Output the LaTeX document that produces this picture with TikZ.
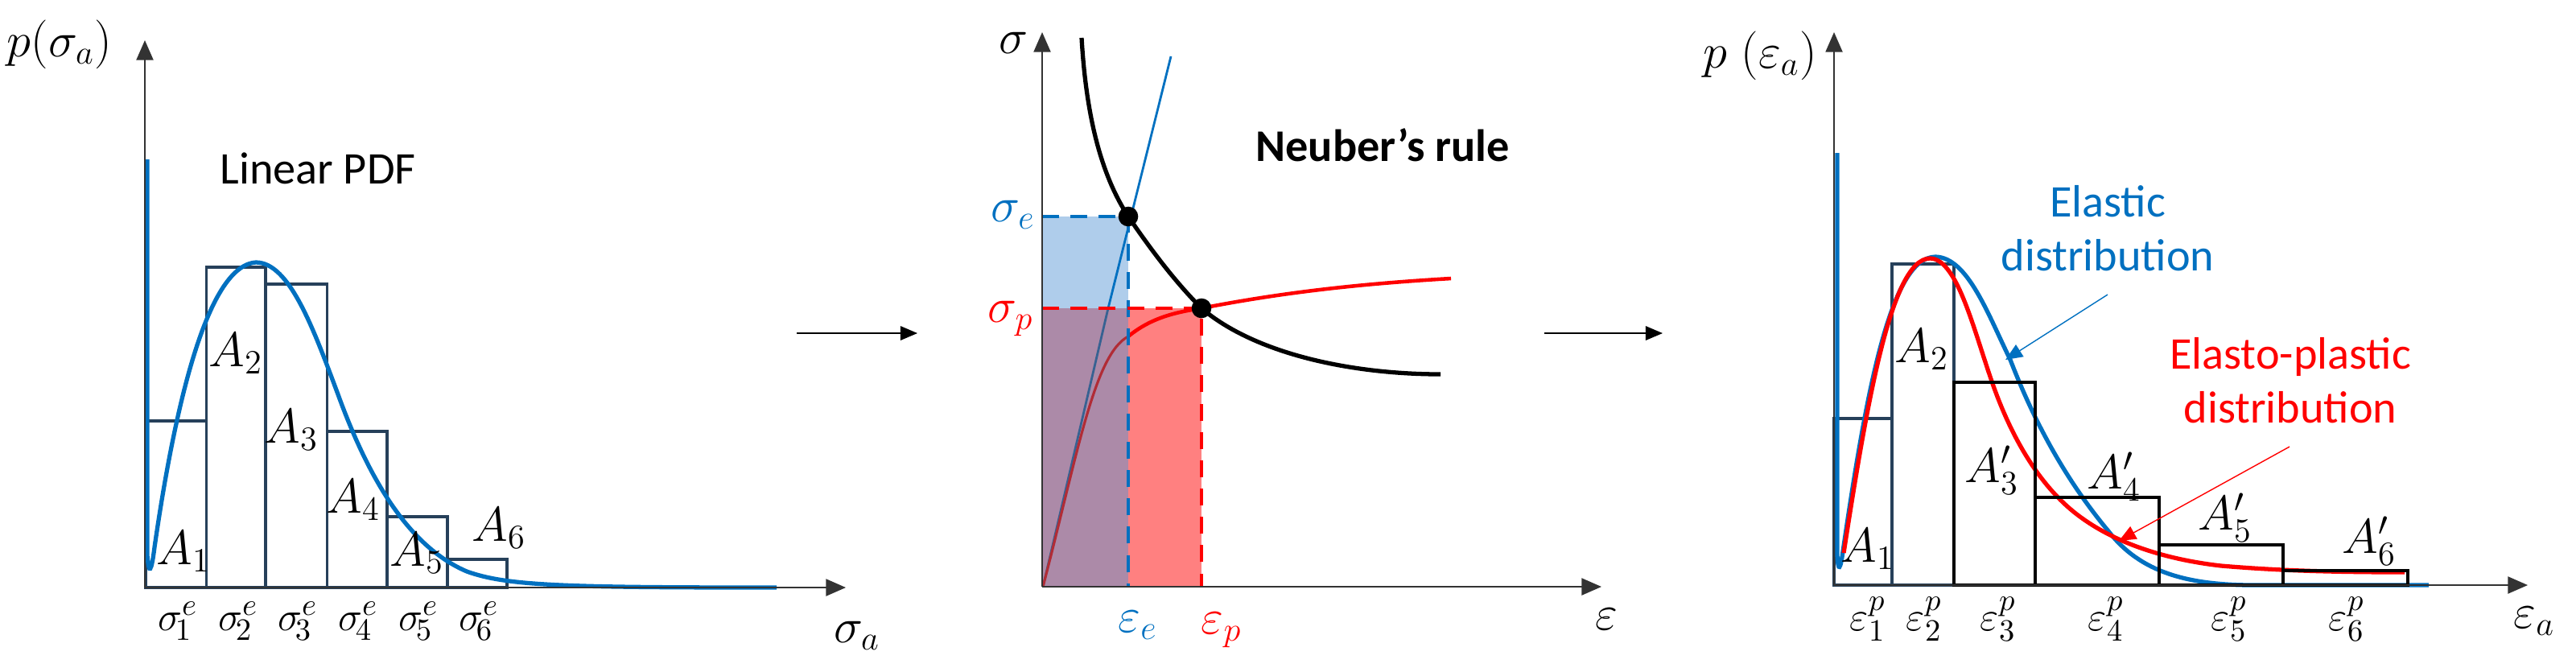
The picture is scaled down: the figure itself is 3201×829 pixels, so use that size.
\documentclass[tikz,border=0pt]{standalone}
\usepackage{fontspec}
\newfontfamily\carl{Carlito}
\usetikzlibrary{arrows.meta}
\definecolor{mblue}{RGB}{0,112,192}
\definecolor{bardark}{RGB}{38,64,90}
\definecolor{fblue}{RGB}{175,205,235}
\definecolor{fpurp}{RGB}{172,138,168}
\definecolor{fred}{RGB}{255,128,128}
\begin{document}
\begin{tikzpicture}[x=0.01cm,y=-0.01cm,
  axis/.style={draw=black!80,line width=0.5pt,-{Triangle[length=7pt,width=6pt]}},
  bar/.style={draw=bardark,line width=0.9pt},
  kbar/.style={draw=black,line width=0.9pt},
  curve/.style={line width=1.5pt},
  lab/.style={font=\fontsize{17}{20}\selectfont,inner sep=1pt},
  tick/.style={font=\fontsize{15.5}{18}\selectfont,inner sep=0pt},
  txt/.style={font=\carl\fontsize{16}{19}\selectfont,align=center},
  conn/.style={line width=0.4pt,-{Triangle[length=6pt,width=5pt]}}]
\useasboundingbox (0,0) rectangle (3201,829);
% ---------- panel 1
\draw[bar] (181,730) rectangle (256.5,523);
\draw[bar] (256.5,730) rectangle (330,332);
\draw[bar] (330,730) rectangle (406.5,353);
\draw[bar] (406.5,730) rectangle (481,536);
\draw[bar] (481,730) rectangle (556,642);
\draw[bar] (556,730) rectangle (630,695);
\draw[curve,mblue] (183,198) -- (183,690) .. controls (185,715) and (188,712) .. (192,680)
  .. controls (215,520) and (255,330) .. (318,326)
  .. controls (360,326) and (390,410) .. (420,490)
  .. controls (460,600) and (510,680) .. (580,710)
  .. controls (630,728) and (700,730) .. (965,730);
\coordinate (o1) at (180,730);
\coordinate (y1) at (180,50);
\coordinate (x1) at (1051,730);
\draw[axis] (o1) -- (y1);
\draw[axis] (o1) -- (x1);
\node[lab] (py) at (74,55) {$p(\sigma_a)$};
\node[lab] (sx) at (1065,790) {$\sigma_a$};
\node[txt] (lin) at (395,209) {Linear PDF};
\foreach \x/\y/\i in {228/685/1,293/439/2,362/534/3,439/621/4,518/687/5,620/656/6}
  \node[lab] (a\i) at (\x,\y) {$A_{\i}$};
\foreach \x/\i in {221/1,296/2,370/3,445/4,520/5,595/6}
  \node[tick] (s\i) at (\x,772) {$\sigma_{\!\i}^{e}$};
% arrows between panels
\coordinate (r1a) at (990,414); \coordinate (r1b) at (1140,414);
\coordinate (r2a) at (1919,414); \coordinate (r2b) at (2066,414);
\draw[conn] (r1a) -- (r1b);
\draw[conn] (r2a) -- (r2b);
% ---------- panel 2
\fill[fblue] (1295,269) rectangle (1402,383);
\fill[fpurp] (1295,383) rectangle (1402,729);
\fill[fred] (1402,383) rectangle (1493,729);
\draw[mblue!60!fpurp!80!black,line width=0.8pt] (1296,729) -- (1377,383);
\draw[mblue,line width=0.8pt] (1377,383) -- (1455,70);
\draw[red!60!fpurp!80!black,line width=0.9pt] (1296,729) .. controls (1340,560) and (1360,440) .. (1402,418);
\draw[red,line width=1.3pt] (1402,418) .. controls (1430,395) and (1460,388) .. (1493,383)
  .. controls (1600,362) and (1700,352) .. (1803,346);
\draw[black,line width=1.5pt] (1344,47) .. controls (1350,150) and (1370,220) .. (1402,269)
  .. controls (1430,310) and (1460,350) .. (1493,383)
  .. controls (1560,440) and (1680,465) .. (1790,465);
\draw[mblue,line width=1.1pt,dash pattern=on 6pt off 4pt] (1295,269) -- (1402,269) -- (1402,729);
\draw[red,line width=1.1pt,dash pattern=on 6pt off 4pt] (1295,383) -- (1493,383) -- (1493,729);
\coordinate (o2) at (1295,729);
\coordinate (y2) at (1295,40);
\coordinate (x2) at (1990,729);
\draw[axis] (o2) -- (y2);
\draw[axis] (o2) -- (x2);
\node[circle,fill=black,inner sep=0pt,minimum size=7pt] (pe) at (1402,269) {};
\node[circle,fill=black,inner sep=0pt,minimum size=7pt] (pp) at (1493,383) {};
\node[lab] (sig) at (1259,53) {$\sigma$};
\node[lab] (eps) at (1996,769) {$\varepsilon$};
\node[lab,text=mblue] (se) at (1259,267) {$\sigma_e$};
\node[lab,text=red] (sp) at (1256,396) {$\sigma_p$};
\node[lab,text=mblue] (ee) at (1414,777) {$\varepsilon_e$};
\node[lab,text=red] (ep) at (1518,783) {$\varepsilon_p$};
\node[txt,font=\carl\bfseries\fontsize{16}{19}\selectfont] (neu) at (1718,180) {Neuber’s rule};
% ---------- panel 3
\draw[bar] (2279,727) rectangle (2351,520);
\draw[bar] (2351,727) rectangle (2428,328);
\draw[curve,mblue] (2283,190) -- (2283,690) .. controls (2284,712) and (2287,708) .. (2290,685)
  .. controls (2320,480) and (2350,320) .. (2405,319)
  .. controls (2445,320) and (2470,390) .. (2498,447)
  .. controls (2530,530) and (2570,600) .. (2620,660)
  .. controls (2660,712) and (2720,727) .. (2800,727) -- (3018,727);
\draw[curve,red] (2291,687) .. controls (2320,500) and (2350,322) .. (2398,321)
  .. controls (2430,321) and (2450,400) .. (2472,465)
  .. controls (2500,550) and (2540,610) .. (2586,643)
  .. controls (2630,675) and (2690,695) .. (2760,703)
  .. controls (2830,709) and (2900,711) .. (2988,711);
\draw[kbar] (2428,727) rectangle (2529,475);
\draw[kbar] (2529,727) rectangle (2683,618);
\draw[kbar] (2683,727) rectangle (2837,677);
\draw[kbar] (2837,727) rectangle (2992,709);
\coordinate (o3) at (2279,727);
\coordinate (y3) at (2279,40);
\coordinate (x3) at (3141,727);
\draw[axis] (o3) -- (y3);
\draw[axis] (o3) -- (x3);
\node[lab,anchor=east] (pe3) at (2262,69) {$p\;(\varepsilon_a)$};
\node[lab] (ea) at (3149,772) {$\varepsilon_a$};
\node[lab] (b1) at (2321,682) {$A_1$};
\node[lab] (b2) at (2388,434) {$A_2$};
\node[lab] (b3) at (2475,584) {$A_3'$};
\node[lab] (b4) at (2627,592) {$A_4'$};
\node[lab] (b5) at (2765,643) {$A_5'$};
\node[lab] (b6) at (2944,672) {$A_6'$};
\foreach \x/\i in {2321/1,2391/2,2483/3,2617/4,2770/5,2916/6}
  \node[tick] (e\i) at (\x,769) {$\varepsilon_{\i}^{p}$};
\node[txt,text=mblue] (el) at (2619,284) {Elastic\\distribution};
\node[txt,text=red] (ep3) at (2846,473) {Elasto-plastic\\distribution};
\coordinate (ela) at (2619,366); \coordinate (elb) at (2492,447);
\coordinate (epa) at (2845,555); \coordinate (epb) at (2633,672);
\draw[conn,mblue] (ela) -- (elb);
\draw[conn,red] (epa) -- (epb);
\end{tikzpicture}
\end{document}
